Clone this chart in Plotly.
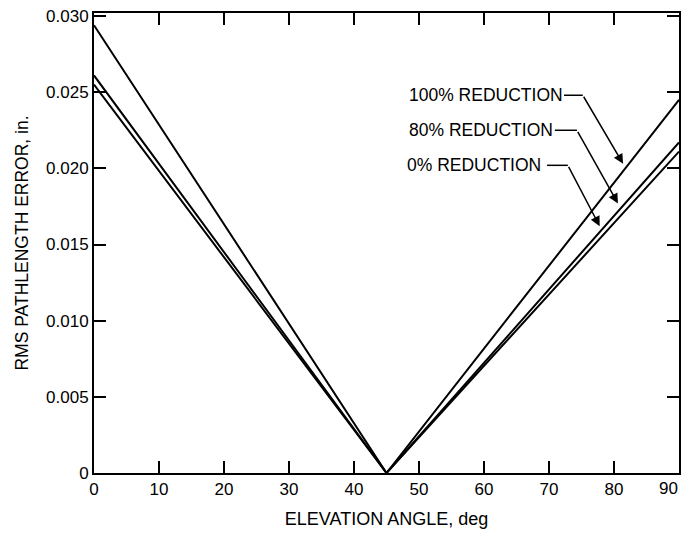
import plotly.graph_objects as go

# ---- data ----
elevation_deg = [0, 45, 90]
err_100 = [0.0294, 0.0, 0.0245]
err_80 = [0.0261, 0.0, 0.0217]
err_0 = [0.0255, 0.0, 0.0211]

series_names = ["100% REDUCTION", "80% REDUCTION", "0% REDUCTION"]

x_ticks = [0, 10, 20, 30, 40, 50, 60, 70, 80, 90]
x_ticktext = ["0", "10", "20", "30", "40", "50", "60", "70", "80", ""]
x_last_label = "90"  # drawn separately, pulled inside the page edge as in the reference
y_ticks = [0, 0.005, 0.010, 0.015, 0.020, 0.025, 0.030]
y_ticktext = ["0", "0.005", "0.010", "0.015", "0.020", "0.025", "0.030"]

# label placement (data coords): text left x, text y, bend point, arrow tip
label_text_x = [48.1, 48.1, 47.9]
label_text_y = [0.0248, 0.0225, 0.0202]
label_line_start_x = [72.3, 70.9, 69.7]
bend_x = [75.2, 74.3, 72.9]
tip_x = [81.4, 80.6, 77.8]
tip_y = [0.0203, 0.0177, 0.0162]

FONT = "Liberation Sans, Arial, Helvetica, sans-serif"

fig = go.Figure()
for name, ys in zip(series_names, [err_100, err_80, err_0]):
    fig.add_trace(go.Scatter(x=elevation_deg, y=ys, mode="lines", name=name,
                             line=dict(color="black", width=2), showlegend=False))

annotations = []
shapes = []
for i, name in enumerate(series_names):
    annotations.append(dict(x=label_text_x[i], y=label_text_y[i], xref="x", yref="y",
                            text=name, showarrow=False, xanchor="left", yanchor="middle",
                            font=dict(family=FONT, size=17.5, color="black")))
    shapes.append(dict(type="line", xref="x", yref="y",
                       x0=label_line_start_x[i], y0=label_text_y[i],
                       x1=bend_x[i], y1=label_text_y[i],
                       line=dict(color="black", width=1.5)))
    annotations.append(dict(x=tip_x[i], y=tip_y[i], xref="x", yref="y",
                            ax=bend_x[i], ay=label_text_y[i], axref="x", ayref="y",
                            text="", showarrow=True, arrowhead=2, arrowsize=1.3,
                            arrowwidth=1.5, arrowcolor="black"))

annotations.append(dict(x=x_ticks[-1], y=0, xref="x", yref="paper",
                        text=x_last_label, showarrow=False,
                        xanchor="right", yanchor="middle", xshift=1, yshift=-15,
                        font=dict(family=FONT, size=17, color="black")))

axis_common = dict(showline=True, linecolor="black", linewidth=2, mirror="ticks",
                   ticks="inside", ticklen=12, tickwidth=1.5, tickcolor="black",
                   showgrid=False, zeroline=False, automargin=False,
                   ticklabeloverflow="allow",
                   tickfont=dict(family=FONT, size=17, color="black"))

fig.update_layout(
    width=681, height=533,
    margin=dict(l=94, r=2, t=13, b=60),
    paper_bgcolor="white", plot_bgcolor="white",
    font=dict(family=FONT, color="black"),
    xaxis=dict(range=[0, 90], tickvals=x_ticks, ticktext=x_ticktext,
               title=dict(text="ELEVATION ANGLE, deg", font=dict(family=FONT, size=18), standoff=14),
               **axis_common),
    yaxis=dict(range=[0, 0.0302], tickvals=y_ticks, ticktext=y_ticktext,
               title=dict(text="RMS PATHLENGTH ERROR, in.", font=dict(family=FONT, size=17.5), standoff=13),
               **axis_common),
    annotations=annotations,
    shapes=shapes,
)

fig.write_html("out.html", config={"displayModeBar": False},
               post_script="document.body.style.margin='0';document.body.style.padding='0';document.body.style.overflow='hidden';")
